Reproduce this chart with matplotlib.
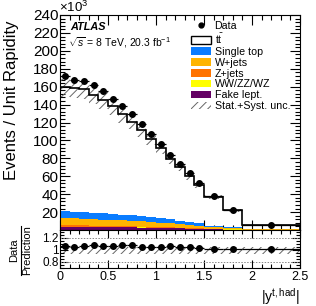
import numpy as np
import matplotlib
matplotlib.use("Agg")
import matplotlib.pyplot as plt
from matplotlib.patches import Patch
from matplotlib.lines import Line2D
from matplotlib.ticker import MultipleLocator, FixedLocator

plt.rcParams['font.family'] = ['Liberation Sans', 'DejaVu Sans']
plt.rcParams['mathtext.fontset'] = 'custom'
plt.rcParams['mathtext.rm'] = 'Liberation Sans'
plt.rcParams['mathtext.it'] = 'Liberation Sans:italic'
plt.rcParams['mathtext.bf'] = 'Liberation Sans:bold'
plt.rcParams['hatch.linewidth'] = 0.7

# ---- data (values in units of 10^3) ----
edges = [0.0, 0.1, 0.2, 0.3, 0.4, 0.5, 0.6, 0.7, 0.8, 0.9, 1.0, 1.1, 1.2, 1.3, 1.4, 1.5, 1.7, 1.9, 2.5]
data = [171.4, 167.8, 165.9, 162.2, 154.8, 146.7, 138.9, 130.0, 117.8, 107.6, 95.5, 83.7, 74.0, 63.3, 52.2, 37.6, 22.3, 5.6]
total_pred = [160.0, 159.0, 157.0, 151.0, 145.6, 138.0, 129.0, 121.0, 112.0, 102.0, 91.0, 79.0, 70.4, 60.4, 50.4, 37.0, 22.0, 5.5]
fake = [3.6, 3.5, 3.4, 3.3, 3.1, 3.0, 2.9, 2.8, 2.6, 2.4, 2.2, 2.0, 1.8, 1.5, 1.3, 0.85, 0.55, 0.17]
diboson = [0.3, 0.3, 0.3, 0.3, 0.3, 0.27, 0.26, 0.24, 0.23, 0.21, 0.2, 0.18, 0.16, 0.14, 0.11, 0.08, 0.05, 0.02]
zjets = [1.5, 1.45, 1.4, 1.35, 1.3, 1.25, 1.2, 1.15, 1.05, 1.0, 0.9, 0.83, 0.74, 0.63, 0.53, 0.35, 0.22, 0.07]
wjets = [8.0, 7.8, 7.6, 7.3, 7.0, 6.8, 6.5, 6.2, 5.8, 5.4, 4.9, 4.5, 4.0, 3.4, 2.8, 1.9, 1.2, 0.38]
singletop = [7.6, 7.45, 7.3, 7.05, 6.8, 6.48, 6.14, 5.81, 5.52, 5.19, 4.8, 4.29, 3.8, 3.33, 2.76, 1.82, 1.18, 0.36]
unc_up = 0.055   # relative
unc_down = 0.07

labels = ['Data', r'$\mathrm{t\bar{t}}$', 'Single top', 'W+jets', 'Z+jets', 'WW/ZZ/WZ', 'Fake lept.', 'Stat.+Syst. unc.']
colors = {'singletop': '#0a7cff', 'wjets': '#ffb400', 'zjets': '#ff7300',
          'diboson': '#ffff00', 'fake': '#640064'}
hatch_color = '#666666'

edges_a = np.array(edges)
centers = 0.5 * (edges_a[1:] + edges_a[:-1])
halfw = 0.5 * (edges_a[1:] - edges_a[:-1])
data_a = np.array(data) * 1e3
tot = np.array(total_pred) * 1e3

W, H = 316, 306
fig = plt.figure(figsize=(W / 100, H / 100), dpi=100)
ax = fig.add_axes([60 / W, 1 - 230 / H, 240 / W, 215 / H])
rax = fig.add_axes([60 / W, 1 - 268 / H, 240 / W, 38 / H])

# tt (white, black outline) as cumulative total
ax.stairs(tot, edges_a, baseline=0, fill=True, facecolor='white', edgecolor='none', zorder=1)
ax.stairs(tot, edges_a, baseline=0, fill=False, color='black', linewidth=1.2, zorder=3)

# backgrounds stacked from bottom
bottom = np.zeros(len(centers))
for key, arr in [('fake', fake), ('diboson', diboson), ('zjets', zjets), ('wjets', wjets), ('singletop', singletop)]:
    vals = np.array(arr) * 1e3
    ax.stairs(bottom + vals, edges_a, baseline=bottom, fill=True, color=colors[key], linewidth=0, zorder=2)
    bottom = bottom + vals

# uncertainty band
ax.fill_between(edges_a, np.append(tot * (1 - unc_down), tot[-1] * (1 - unc_down)),
                np.append(tot * (1 + unc_up), tot[-1] * (1 + unc_up)), step='post',
                facecolor='none', edgecolor=hatch_color, hatch='////', linewidth=0, zorder=2.5)

# data
ax.errorbar(centers, data_a, xerr=halfw, yerr=np.sqrt(data_a) * 3, fmt='o', color='black',
            markersize=4.0, elinewidth=0.9, capsize=0, zorder=5)

ax.set_xlim(0, 2.5)
ax.set_ylim(0, 240e3)
ax.yaxis.set_major_locator(FixedLocator([20e3 * i for i in range(1, 13)]))
ax.yaxis.set_minor_locator(MultipleLocator(4e3))
ax.xaxis.set_major_locator(MultipleLocator(0.5))
ax.xaxis.set_minor_locator(MultipleLocator(0.1))
ax.set_yticklabels([str(20 * i) for i in range(1, 13)])
ax.tick_params(axis='both', which='both', direction='in', top=True, right=True, labelbottom=False)
ax.tick_params(axis='both', which='major', length=7, width=0.8)
ax.tick_params(axis='both', which='minor', length=3.5, width=0.8)
ax.tick_params(axis='y', labelsize=11, pad=1)

# ratio
ratio = data_a / tot
rax.fill_between(edges_a, np.full(len(edges_a), 1 - unc_down), np.full(len(edges_a), 1 + unc_up),
                 step='post', facecolor='none', edgecolor=hatch_color, hatch='////', linewidth=0)
for yv in (0.8, 1.2):
    rax.axhline(yv, color='#888888', linestyle=(0, (1.5, 1.5)), linewidth=0.7)
rax.errorbar(centers, ratio, xerr=halfw, yerr=np.sqrt(data_a) * 3 / tot, fmt='o', color='black',
             markersize=4.0, elinewidth=0.9, capsize=0, zorder=5)
rax.set_xlim(0, 2.5)
rax.set_ylim(0.7, 1.33)
rax.yaxis.set_major_locator(FixedLocator([0.8, 1.0, 1.2]))
rax.set_yticklabels(['0.8', '1', '1.2'])
rax.yaxis.set_minor_locator(MultipleLocator(0.05))
rax.set_xticks([0, 0.5, 1, 1.5, 2, 2.5])
rax.set_xticklabels(['0', '0.5', '1', '1.5', '2', '2.5'])
rax.xaxis.set_minor_locator(MultipleLocator(0.1))
rax.tick_params(axis='both', which='both', direction='in', top=True, right=True)
rax.tick_params(axis='both', which='major', length=6, width=0.8)
rax.tick_params(axis='both', which='minor', length=3, width=0.8)
rax.tick_params(axis='y', labelsize=8.5, pad=1)
rax.tick_params(axis='x', labelsize=9, pad=2)

# texts
fig.text(12 / W, 1 - 20 / H, 'Events / Unit Rapidity', rotation=90, ha='center', va='top', fontsize=12)
fig.text(59 / W, 1 - 12.5 / H, r'$\times10^{3}$', ha='left', va='baseline', fontsize=9.5)
fig.text(70 / W, 1 - 30 / H, 'ATLAS', fontsize=7.8,
         fontweight='bold', fontstyle='italic', ha='left', va='baseline')
fig.text(68 / W, 1 - 46 / H, r'$\sqrt{s}$ = 8 TeV, 20.3 fb$^{-1}$', fontsize=7.5, ha='left', va='baseline')
fig.text(300 / W, 1 - 297 / H, r'$|\mathrm{y}^{\mathrm{t,had}}|$', ha='right', va='center', fontsize=10)

# ratio y label as a fraction
fig.text(14 / W, 1 - 250 / H, 'Data', rotation=90, ha='center', va='center', fontsize=8)
fig.text(27 / W, 1 - 250 / H, 'Prediction', rotation=90, ha='center', va='center', fontsize=8)
fig.add_artist(Line2D([20.5 / W, 20.5 / W], [1 - 226 / H, 1 - 275 / H], color='black', linewidth=0.8,
                      transform=fig.transFigure))

# legend
handles = [
    Line2D([], [], marker='o', color='black', markersize=3.5, linestyle='none'),
    Patch(facecolor='white', edgecolor='black', linewidth=1.0),
    Patch(facecolor=colors['singletop'], edgecolor='none'),
    Patch(facecolor=colors['wjets'], edgecolor='none'),
    Patch(facecolor=colors['zjets'], edgecolor='none'),
    Patch(facecolor=colors['diboson'], edgecolor='none'),
    Patch(facecolor=colors['fake'], edgecolor='none'),
    Patch(facecolor='none', edgecolor=hatch_color, hatch='////', linewidth=0),
]
leg = fig.legend(handles, labels, loc='upper left', bbox_to_anchor=(191 / W, 1 - 21 / H),
                 frameon=False, fontsize=7.7, handlelength=1.9, handleheight=0.7,
                 handletextpad=0.3, labelspacing=0.08, borderpad=0, borderaxespad=0)

fig.savefig('out.png', dpi=100)
